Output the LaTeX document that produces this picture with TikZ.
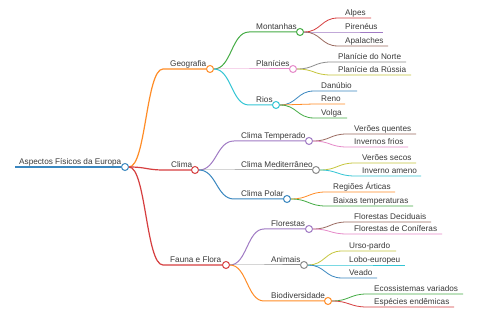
\documentclass[tikz,border=0pt]{standalone}
\usepackage{fontspec}
\setmainfont{Liberation Sans}
\usetikzlibrary{calc}
\definecolor{cBlue}{HTML}{3A87C0}
\definecolor{cOrange}{HTML}{FF8C26}
\definecolor{cGreen}{HTML}{44AC44}
\definecolor{cRed}{HTML}{D63E3F}
\definecolor{cPurple}{HTML}{A07AC4}
\definecolor{cBrown}{HTML}{9A6A60}
\definecolor{cPink}{HTML}{E68AC9}
\definecolor{cGray}{HTML}{8C8C8C}
\definecolor{cOlive}{HTML}{C6C63D}
\definecolor{cCyan}{HTML}{33C5D4}
\definecolor{txt}{HTML}{3A3A3A}
\tikzset{
  mmtext/.style={anchor=base west, inner sep=0pt, text=txt, font=\fontsize{8.2}{10}\selectfont},
  mmcirc/.style={circle, draw=#1, fill=white, line width=1pt, minimum size=7pt, inner sep=0pt},
  branch/.style={to path={let \p1=(\tikztostart), \p2=(\tikztotarget) in .. controls ({(\x1+\x2)/2},\y1) and ({(\x1+\x2)/2},\y2) .. (\tikztotarget)}},
}
% name parent xs xt xc y color lw text
\newcommand\mminner[9]{%
  \node[mmcirc=#7] (#1) at (#5,#6) {};
  \coordinate (#1-s) at (#3,#6);
  \draw[#7, line width=#8] (#2.east) to[branch] (#1-s) -- (#1.west);
  \node[mmtext] (#1-t) at (#4,#6-2.8) {#9};
}
% name parent xs xt xe y color text
\newcommand\mmleaf[8]{%
  \coordinate (#1-s) at (#3,#6);
  \coordinate (#1) at (#5,#6);
  \draw[#7, line width=0.8pt] (#2.east) to[branch] (#1-s) -- (#1);
  \node[mmtext] (#1-t) at (#4,#6-2.8) {#8};
}
\begin{document}
\begin{tikzpicture}[x=1pt,y=-1pt]
\useasboundingbox[fill=white] (0,0) rectangle (480,320);
% root
\node[mmcirc=cBlue] (root) at (125,167) {};
\coordinate (root-s) at (15,167);
\draw[cBlue, line width=1.5pt] (root-s) -- (root.west);
\node[mmtext] (root-t) at (19,164.2) {Aspectos Físicos da Europa};
% level 1
\mminner{geo}{root}{163}{170}{210}{69}{cOrange}{1.2pt}{Geografia}
\mminner{cli}{root}{164}{171}{195}{170}{cRed}{1.2pt}{Clima}
\mminner{fau}{root}{163}{170}{226}{265}{cRed}{1.2pt}{Fauna e Flora}
% level 2
\mminner{mon}{geo}{249}{256}{300}{32}{cGreen}{1pt}{Montanhas}
\mminner{pla}{geo}{249}{256}{293}{69}{cPink}{1pt}{Planícies}
\mminner{rio}{geo}{249}{256}{276}{105}{cCyan}{1pt}{Rios}
\mminner{ctemp}{cli}{234}{241}{309}{141}{cPurple}{1pt}{Clima Temperado}
\mminner{cmed}{cli}{234}{241}{316}{170}{cGray}{1pt}{Clima Mediterrâneo}
\mminner{cpol}{cli}{234}{241}{287}{199}{cBlue}{1pt}{Clima Polar}
\mminner{flo}{fau}{264}{271}{309}{229}{cPurple}{1pt}{Florestas}
\mminner{ani}{fau}{264}{271}{304}{265}{cGray}{1pt}{Animais}
\mminner{bio}{fau}{264}{271}{328}{301}{cOrange}{1pt}{Biodiversidade}
% level 3
\mmleaf{alp}{mon}{338}{345}{371}{18}{cRed}{Alpes}
\mmleaf{pir}{mon}{338}{345}{383}{32}{cPurple}{Pirenéus}
\mmleaf{apa}{mon}{338}{345}{388}{46}{cBrown}{Apalaches}
\mmleaf{pno}{pla}{331}{338}{406}{62}{cGray}{Planície do Norte}
\mmleaf{pru}{pla}{331}{338}{411}{75}{cOlive}{Planície da Rússia}
\mmleaf{dan}{rio}{314}{321}{357}{91}{cBlue}{Danúbio}
\mmleaf{ren}{rio}{314}{321}{345}{104}{cOrange}{Reno}
\mmleaf{vol}{rio}{314}{321}{347}{118}{cGreen}{Volga}
\mmleaf{vq}{ctemp}{347}{354}{416}{134}{cBrown}{Verões quentes}
\mmleaf{if}{ctemp}{347}{354}{408}{147}{cPink}{Invernos frios}
\mmleaf{vs}{cmed}{355}{362}{416}{163}{cOlive}{Verões secos}
\mmleaf{ia}{cmed}{355}{362}{421}{176}{cCyan}{Inverno ameno}
\mmleaf{ra}{cpol}{326}{333}{395}{192}{cOrange}{Regiões Árticas}
\mmleaf{bt}{cpol}{326}{333}{413}{206}{cGreen}{Baixas temperaturas}
\mmleaf{fd}{flo}{347}{354}{431}{222}{cBrown}{Florestas Deciduais}
\mmleaf{fc}{flo}{347}{354}{442}{234}{cPink}{Florestas de Coníferas}
\mmleaf{up}{ani}{342}{349}{396}{251}{cOlive}{Urso-pardo}
\mmleaf{le}{ani}{342}{349}{405}{265}{cCyan}{Lobo-europeu}
\mmleaf{ve}{ani}{342}{349}{377}{278}{cBlue}{Veado}
\mmleaf{ev}{bio}{367}{374}{463}{294}{cGreen}{Ecossistemas variados}
\mmleaf{ee}{bio}{367}{374}{454}{307}{cRed}{Espécies endêmicas}
\end{tikzpicture}
\end{document}
